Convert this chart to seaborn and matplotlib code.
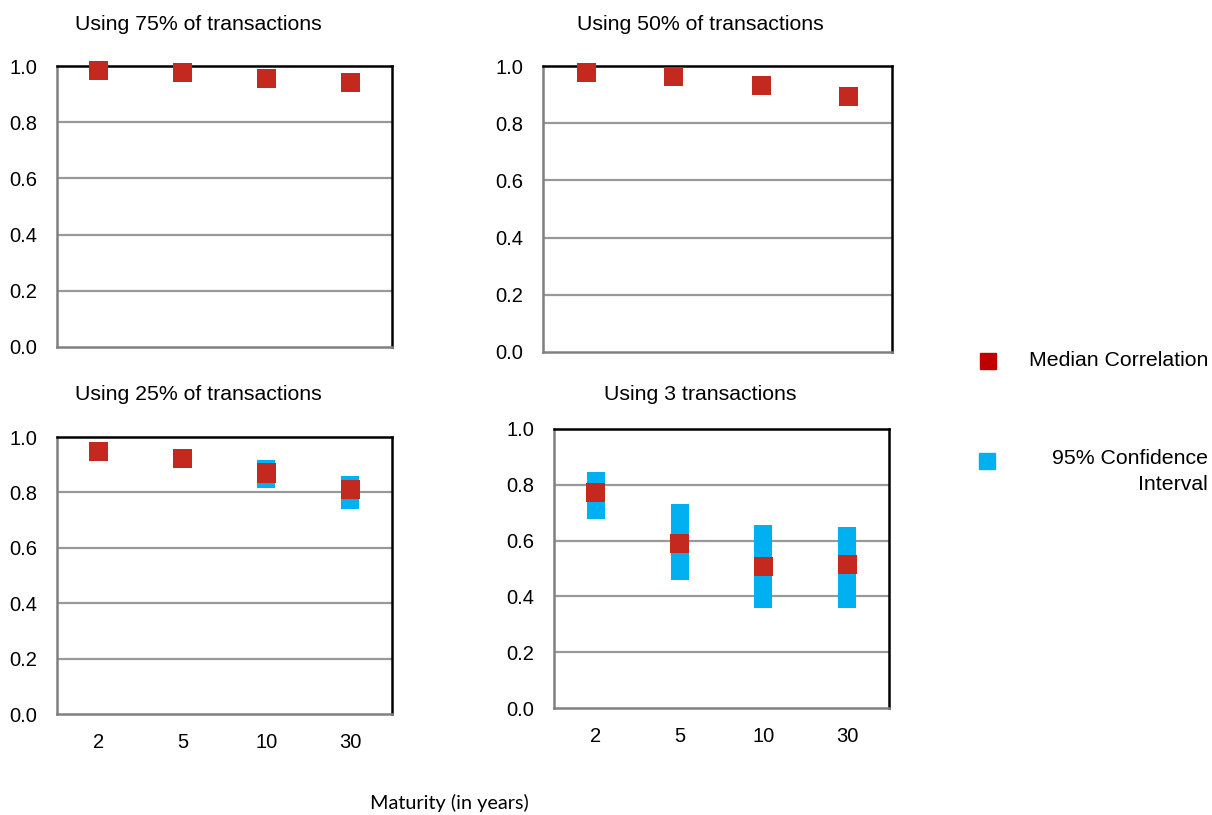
import numpy as np
import pandas as pd
import matplotlib
matplotlib.use("Agg")
import matplotlib.pyplot as plt
import seaborn as sns
from matplotlib.lines import Line2D

# Data
maturities = ["2", "5", "10", "30"]
titles = ["Using 75% of transactions", "Using 50% of transactions",
          "Using 25% of transactions", "Using 3 transactions"]

median_75 = [0.985, 0.977, 0.956, 0.942]
ci_low_75 = [0.980, 0.972, 0.950, 0.935]
ci_high_75 = [0.990, 0.982, 0.962, 0.948]

median_50 = [0.978, 0.964, 0.933, 0.894]
ci_low_50 = [0.970, 0.955, 0.920, 0.866]
ci_high_50 = [0.985, 0.972, 0.945, 0.922]

median_25 = [0.949, 0.921, 0.870, 0.809]
ci_low_25 = [0.940, 0.912, 0.816, 0.740]
ci_high_25 = [0.958, 0.930, 0.917, 0.859]

median_3 = [0.773, 0.590, 0.508, 0.514]
ci_low_3 = [0.676, 0.458, 0.360, 0.357]
ci_high_3 = [0.847, 0.731, 0.656, 0.650]

RED = "#C4291F"
BLUE = "#00B0F0"
W, H = 1212, 815

sns.set_style("white", {"text.color": "black", "xtick.color": "black",
                        "ytick.color": "black"})
plt.rcParams["font.family"] = ["Liberation Sans", "DejaVu Sans"]

fig = plt.figure(figsize=(W / 100, H / 100), dpi=100)


def px_axes(x0, y0, x1, y1):
    return fig.add_axes([x0 / W, 1 - y1 / H, (x1 - x0) / W, (y1 - y0) / H])


panels = [
    ((57, 66, 392, 347), (198, 24), median_75, ci_low_75, ci_high_75, False),
    ((543, 66, 892, 352), (700, 24), median_50, ci_low_50, ci_high_50, False),
    ((57, 437, 392, 714), (198, 394), median_25, ci_low_25, ci_high_25, True),
    ((554, 429, 889, 708), (700, 394), median_3, ci_low_3, ci_high_3, True),
]

for i, (box, tpos, med, lo, hi, show_x) in enumerate(panels):
    ax = px_axes(*box)
    df = pd.DataFrame({"pos": np.arange(len(maturities)), "maturity": maturities,
                       "median": med, "lo": lo, "hi": hi})
    # confidence interval as a thick vertical bar behind the median square
    ax.vlines(df["pos"], df["lo"], df["hi"], colors=BLUE, linewidth=13,
              zorder=2, clip_on=False)
    for l in ax.collections:
        l.set_capstyle("butt")
    sns.scatterplot(data=df, x="pos", y="median", marker="s", s=190,
                    color=RED, edgecolor="none", ax=ax, zorder=3, legend=False,
                    clip_on=False)
    ax.set_xlim(-0.5, len(maturities) - 0.5)
    ax.set_ylim(0, 1)
    ax.set_yticks(np.arange(0, 1.01, 0.2))
    ax.set_yticklabels([f"{v:.1f}" for v in np.arange(0, 1.01, 0.2)], fontsize=14.5)
    for yv in [0.2, 0.4, 0.6, 0.8]:
        ax.axhline(yv, color="#999999", lw=1.6, zorder=1)
    ax.set_xticks(df["pos"])
    if show_x:
        ax.set_xticklabels(maturities, fontsize=14.5)
    else:
        ax.set_xticklabels([])
    ax.tick_params(axis="y", length=0, pad=14, colors="black")
    ax.tick_params(axis="x", length=0, pad=14, colors="black")
    ax.set_xlabel("")
    ax.set_ylabel("")
    for side in ["left", "bottom"]:
        ax.spines[side].set_color("#808080")
        ax.spines[side].set_linewidth(1.8)
    for side in ["top", "right"]:
        ax.spines[side].set_color("black")
        ax.spines[side].set_linewidth(1.8)
    fig.text(tpos[0] / W, 1 - tpos[1] / H, titles[i], ha="center", va="center",
             fontsize=15.3, color="black")

# Legend drawn by hand to match the right-aligned text
fig.add_artist(Line2D([988 / W], [1 - 361 / H], marker="s", markersize=11.5,
                      color="#C00000", linestyle="none"))
fig.add_artist(Line2D([987 / W], [1 - 461 / H], marker="s", markersize=11.5,
                      color=BLUE, linestyle="none"))
fig.text(1208 / W, 1 - 361 / H, "Median Correlation", ha="right", va="center",
         fontsize=15.3, color="black")
fig.text(1208 / W, 1 - 459 / H, "95% Confidence", ha="right", va="center",
         fontsize=15.3, color="black")
fig.text(1208 / W, 1 - 484 / H, "Interval", ha="right", va="center",
         fontsize=15.3, color="black")

fig.text(449 / W, 1 - 803 / H, "Maturity (in years)", ha="center", va="center",
         fontsize=14.3, color="black", family=["Lato", "DejaVu Sans"])

fig.savefig("out.png", dpi=100, facecolor="white")
